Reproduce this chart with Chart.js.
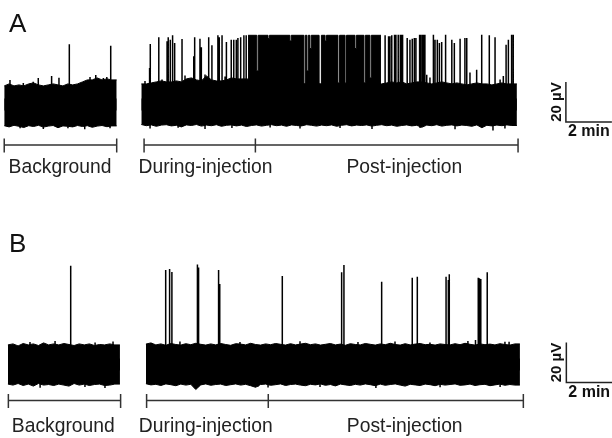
<!DOCTYPE html>
<html>
<head>
<meta charset="utf-8">
<script src="https://cdn.jsdelivr.net/npm/chart.js@4.4.1/dist/chart.umd.min.js"></script>
<style>
  html, body { margin: 0; padding: 0; background: #fff; }
  .panel { position: absolute; left: 0; width: 612px; height: 219px; }
</style>
</head>
<body>
<canvas id="panelA" class="panel" width="612" height="219" style="top:0"></canvas>
<canvas id="panelB" class="panel" width="612" height="219" style="top:219px"></canvas>
<script>
// time in minutes, voltage in µV (scale bar: 2 min / 20 µV)
const epochLabels = ['Background', 'During-injection', 'Post-injection'];

// ---- Panel A ----
const A_bgSpan = [0.01, 4.90];
const A_bgTop = [9.3, 10.3, 9.3, 9.8, 9.3, 10.3, 10.8, 9.8, 9.3, 9.8, 10.3, 9.8, 9.3, 10.3, 9.8, 10.3, 11.3, 12.3, 12.3, 13.3, 12.3, 12.8, 12.3];
const A_bgBottom = [-10.6, -11.2, -10.4, -10.9, -11.5, -10.6, -11.0, -10.4, -11.3, -10.8, -10.5, -11.6, -10.7, -10.9, -11.2, -10.5, -11.0, -10.6, -11.4, -10.8, -10.5, -11.1, -10.7];
const A_injSpan = [5.97, 22.30];
const A_injTop = [10.3, 10.3, 10.8, 11.3, 11.8, 11.3, 11.3, 11.8, 11.3, 12.8, 13.3, 12.3, 11.8, 14.3, 12.3, 11.8, 11.8, 12.3, 13.3, 12.8, 12.8, 12.8,
  12.5, 12.0, 11.5, 11.0, 10.8, 10.5, 10.8, 10.5, 10.3, 10.8, 10.5, 10.3, 10.8, 10.5, 10.3, 10.5, 10.8, 10.3, 10.5, 10.8, 10.5, 10.3, 10.8, 10.5, 10.3, 10.5,
  10.3, 10.8, 11.3, 10.8, 11.3, 10.3, 10.8, 11.3, 11.3, 10.8, 10.3, 10.8, 11.3, 10.8, 10.3, 10.8, 10.3, 9.8, 10.3, 10.8, 10.3, 10.3, 9.8, 10.3, 10.8, 10.3, 10.3];
const A_injBottom = [-10.0, -10.6, -10.2, -10.9, -10.3, -10.1, -10.7, -10.4, -11.2, -10.2, -10.5, -10.0, -10.8, -10.3, -10.6, -10.1, -10.9, -10.4, -10.2, -10.7,
  -10.3, -11.0, -10.5, -10.2, -10.8, -10.4, -10.1, -10.6, -10.3, -10.9, -10.2, -10.5, -10.7, -10.1, -10.4, -10.8, -10.3, -10.6, -10.2, -10.9,
  -10.4, -10.1, -10.7, -10.3, -10.5, -10.2, -10.8, -10.4, -10.1, -10.6, -10.3, -10.9, -10.5, -10.2, -10.7, -10.4, -11.4, -10.3, -10.6, -10.1,
  -10.8, -10.4, -10.2, -10.7, -10.3, -10.5, -10.9, -10.2, -11.6, -10.4, -10.7, -10.3, -10.6, -10.2, -10.5];
// saturated firing block, with the short pauses (notches)
const A_burstT = [10.61, 10.99, 11.05, 11.48, 11.54, 12.43, 12.49, 13.04, 13.10, 13.17, 13.23, 13.30, 13.36, 13.70, 13.80,
  13.96, 14.02, 14.52, 14.59, 14.83, 14.89, 15.26, 15.32, 15.65, 15.71, 15.91, 15.97, 16.39];
const A_burstV = [34.6, 16.8, 34.6, 33.0, 34.6, 31.8, 34.6, 9.3, 34.6, 16.8, 34.6, 28.0, 34.6, 9.8, 34.6,
  31.8, 34.6, 10.8, 34.6, 9.8, 34.6, 28.0, 34.6, 10.8, 34.6, 13.3, 34.6, 34.6];
// spikes (positive) and small deflections (both signs)
const A_spikeT = [2.07, 2.39, 2.84, 3.99, 4.64,
  0.26, 0.84, 1.27, 1.49, 3.74, 4.32, 4.47, 0.70, 1.71, 2.78, 3.51, 4.61,
  6.33, 6.36, 6.73, 7.09, 7.14, 7.23, 7.33, 7.42, 7.74, 8.25, 8.29, 8.52, 8.58, 8.90, 9.04, 9.30, 9.36, 9.48, 9.67,
  9.88, 9.99, 10.10, 10.17, 10.29, 10.43, 10.53,
  16.57, 16.72, 16.78, 16.86, 16.98, 17.04, 17.14, 17.23, 17.28, 17.33, 17.53, 17.65, 17.75, 17.84, 17.91,
  18.07, 18.13, 18.20, 18.26, 18.30, 18.38, 18.67, 18.74, 18.84, 18.93, 19.03, 19.20, 19.47, 19.58, 19.83,
  20.04, 20.12, 20.55, 20.77, 21.10, 21.35, 21.71, 21.83, 21.93, 22.07, 22.14,
  6.13, 6.87, 7.87, 8.74, 9.61, 17.00, 18.52, 20.26, 21.57,
  6.35, 7.57, 8.74, 9.91, 11.57, 12.87, 14.61, 16.00, 18.09, 19.61, 21.26, 21.78];
const A_spikeV = [14.3, 13.4, 30.1, 14.8, 29.4,
  12.3, 10.8, 11.4, 13.3, 13.8, 13.3, 13.8, -11.9, -12.3, -11.9, -12.4, -11.9,
  18.3, 30.3, 33.6, 31.6, 33.6, 32.4, 34.6, 30.8, 32.8, 24.1, 33.6, 32.9, 28.6, 33.6, 29.6, 34.6, 33.6, 34.6, 31.3,
  32.4, 32.4, 32.4, 33.3, 33.6, 34.6, 34.6,
  34.6, 34.1, 34.1, 34.6, 34.9, 34.9, 34.9, 34.9, 34.9, 34.9, 33.3, 32.4, 32.9, 33.3, 33.3,
  34.9, 34.9, 34.9, 34.9, 34.9, 14.9, 34.9, 32.4, 32.4, 30.8, 31.3, 34.9, 32.4, 30.8, 32.9,
  33.3, 33.3, 17.4, 34.9, 34.6, 33.6, 14.3, 29.9, 32.4, 34.9, 34.9,
  11.8, 12.5, 14.5, 15.0, 14.0, 12.8, 13.5, 16.0, 12.5,
  -12.0, -11.6, -12.3, -11.8, -11.5, -12.0, -11.7, -12.2, -11.8, -12.4, -13.0, -12.0];
const A_epochEdges = [0.01, 4.90, 6.09, 10.93, 22.35];

// ---- Panel B ----
const B_bgSpan = [0.17, 5.04];
const B_bgTop = [9.8, 10.3, 9.3, 10.5, 9.8, 10.3, 9.5, 10.8, 9.8, 10.3, 9.8, 10.5, 10.0, 9.5, 10.3, 9.8, 10.3, 9.5, 10.0, 9.8, 10.3, 9.8];
const B_bgBottom = [-9.8, -10.3, -9.5, -10.5, -9.8, -10.8, -9.5, -10.3, -10.0, -10.5, -9.8, -10.3, -10.8, -9.5, -10.3, -9.8, -10.5, -10.0, -9.8, -10.5, -10.3, -9.8];
const B_injSpan = [6.17, 22.43];
const B_injTop = [10.2, 10.8, 9.8, 10.3, 9.6, 10.5, 10.0, 9.7, 10.4, 9.9, 10.6, 10.1, 9.7, 10.3, 9.8, 10.5, 10.0, 9.6, 10.4, 10.2,
  9.8, 10.6, 10.0, 9.7, 10.3, 9.9, 10.5, 10.1, 9.7, 10.4, 9.8, 10.2, 10.6, 9.9, 10.3, 9.7, 10.1, 10.5, 9.8, 10.2,
  9.6, 10.4, 10.0, 9.8, 10.5, 10.1, 9.7, 10.3, 9.9, 10.6, 10.0, 9.7, 10.4, 9.8, 10.2, 10.5, 9.9, 10.1, 9.7, 10.3,
  10.0, 9.8, 10.4, 9.9, 10.6, 10.1, 9.7, 10.3, 9.9, 10.2, 9.8, 10.4, 10.0, 9.7, 10.3];
const B_injBottom = [-9.6, -10.2, -9.9, -10.5, -9.7, -10.1, -10.6, -9.8, -10.3, -9.9, -12.5, -10.2, -9.7, -10.4, -10.0, -9.8, -10.5, -10.1, -9.7, -10.3,
  -9.9, -10.6, -11.4, -10.0, -9.8, -10.4, -10.1, -9.7, -10.5, -10.0, -9.8, -10.3, -10.6, -9.9, -10.2, -9.7, -10.4, -10.0, -10.7, -9.8,
  -10.2, -10.5, -9.9, -10.3, -9.7, -10.1, -10.6, -9.8, -10.4, -10.0, -9.7, -10.3, -10.8, -9.9, -10.2, -10.5, -9.8, -10.1, -10.6, -9.9,
  -10.3, -10.0, -9.7, -10.4, -10.2, -9.8, -10.5, -10.1, -9.9, -10.6, -10.2, -9.8, -10.4, -10.0, -10.3];
const B_spikeT = [2.90, 6.40, 7.03, 7.20, 7.30, 8.41, 8.46, 9.33, 9.38, 12.10, 14.68, 14.78, 16.42, 17.75, 17.97,
  19.22, 19.32, 19.36, 20.50, 20.62, 20.67, 20.73, 21.01, 21.96,
  1.13, 2.22, 3.96, 4.74, 7.65, 10.26, 12.87, 15.39, 17.00, 18.52, 20.17, 21.78,
  1.57, 3.52, 4.39, 11.04, 11.48, 13.74, 16.17, 18.96, 21.57];
const B_spikeV = [49.4, 10.8, 47.3, 47.8, 46.3, 50.0, 48.5, 47.3, 40.3, 44.3, 46.1, 49.8, 41.4, 43.4, 43.9,
  43.9, 42.3, 45.1, 12.3, 43.4, 43.1, 42.7, 46.1, 11.4,
  11.3, 11.8, 11.0, 11.5, 11.5, 11.2, 11.6, 11.3, 11.5, 11.0, 11.8, 11.4,
  -11.6, -11.3, -11.8, -11.1, -11.5, -11.2, -11.8, -11.4, -11.2];
const B_epochEdges = [0.19, 5.07, 6.20, 11.49, 22.58];

// scale bar size
const barMinutes = 2;
const barMicroV = 20;

function envelope(span, values) {
  const dt = (span[1] - span[0]) / values.length;
  const pts = values.map((v, i) => ({ x: span[0] + i * dt, y: v }));
  pts.push({ x: span[1], y: values[values.length - 1] });
  return pts;
}

function spikes(ts, vs) {
  const pts = [];
  ts.forEach((t, i) => {
    pts.push({ x: t, y: 0 }, { x: t, y: vs[i] }, { x: t, y: null });
  });
  return pts;
}

// filled trace envelope; fills a little past zero so the halves overlap
function band(data, stepped) {
  const up = data[0].y > 0;
  return {
    data: data,
    stepped: stepped,
    fill: { value: up ? -3 : 3 },
    borderColor: '#000',
    backgroundColor: '#000',
    borderWidth: 1,
    pointRadius: 0
  };
}

function decor(cfg) {
  return {
    id: 'decor',
    afterDraw(chart) {
      const ctx = chart.ctx;
      const xs = chart.scales.x;
      const ys = chart.scales.y;
      ctx.save();

      // panel letter
      ctx.fillStyle = '#111';
      ctx.font = '26px "Liberation Sans", Arial, sans-serif';
      ctx.textAlign = 'left';
      ctx.textBaseline = 'alphabetic';
      ctx.fillText(cfg.letter, 9, cfg.letterY);

      // epoch brackets
      const e = cfg.edges.map(t => xs.getPixelForValue(t));
      const by = cfg.bracketY;
      ctx.strokeStyle = '#333';
      ctx.lineWidth = 1.5;
      ctx.beginPath();
      ctx.moveTo(e[0], by); ctx.lineTo(e[1], by);
      ctx.moveTo(e[2], by); ctx.lineTo(e[4], by);
      e.forEach(px => { ctx.moveTo(px, by - 6.5); ctx.lineTo(px, by + 7.5); });
      ctx.stroke();

      // epoch labels
      ctx.fillStyle = '#222';
      ctx.font = '19.3px "Liberation Sans", Arial, sans-serif';
      ctx.textAlign = 'center';
      epochLabels.forEach((s, i) => ctx.fillText(s, cfg.labelX[i], cfg.labelY));

      // scale bar
      const x0 = xs.getPixelForValue(cfg.barT);
      const x1 = xs.getPixelForValue(cfg.barT + barMinutes);
      const y0 = ys.getPixelForValue(cfg.barV);
      const y1 = ys.getPixelForValue(cfg.barV + barMicroV);
      ctx.strokeStyle = '#222';
      ctx.lineWidth = 1.5;
      ctx.beginPath();
      ctx.moveTo(x0, y1); ctx.lineTo(x0, y0); ctx.lineTo(x1, y0);
      ctx.stroke();
      ctx.fillStyle = '#111';
      ctx.font = 'bold 16px "Liberation Sans", Arial, sans-serif';
      ctx.textAlign = 'left';
      ctx.fillText(barMinutes + ' min', x0 + 2, y0 + 14);
      ctx.save();
      ctx.translate(x0 - 5, (y0 + y1) / 2);
      ctx.rotate(-Math.PI / 2);
      ctx.textAlign = 'center';
      ctx.font = 'bold 15px "Liberation Sans", Arial, sans-serif';
      ctx.fillText(barMicroV + ' \u00b5V', 0, 0);
      ctx.restore();

      ctx.restore();
    }
  };
}

function makePanel(id, p) {
  const sets = [
    band(envelope(p.bgSpan, p.bgTop), false),
    band(envelope(p.bgSpan, p.bgBottom), false),
    band(envelope(p.injSpan, p.injTop), false),
    band(envelope(p.injSpan, p.injBottom), false)
  ];
  if (p.burstT) {
    sets.push(band(p.burstT.map((t, i) => ({ x: t, y: p.burstV[i] })), true));
  }
  sets.push({
    data: spikes(p.spikeT, p.spikeV),
    borderColor: '#000',
    borderWidth: 1.5,
    pointRadius: 0,
    fill: false,
    spanGaps: false
  });

  new Chart(document.getElementById(id), {
    type: 'line',
    data: { datasets: sets },
    options: {
      responsive: false,
      devicePixelRatio: 1,
      animation: false,
      layout: { padding: 0 },
      plugins: { legend: { display: false }, tooltip: { enabled: false } },
      scales: {
        x: { type: 'linear', display: false, min: -4 / 23, max: -4 / 23 + 612 / 23 },
        y: { type: 'linear', display: false, min: p.yMin, max: p.yMax }
      }
    },
    plugins: [decor(p)]
  });
}

makePanel('panelA', {
  bgSpan: A_bgSpan, bgTop: A_bgTop, bgBottom: A_bgBottom,
  injSpan: A_injSpan, injTop: A_injTop, injBottom: A_injBottom,
  burstT: A_burstT, burstV: A_burstV,
  spikeT: A_spikeT, spikeV: A_spikeV,
  edges: A_epochEdges,
  yMin: -57.25, yMax: 52.25,
  letter: 'A', letterY: 32,
  bracketY: 145, labelX: [60, 205.5, 404.3], labelY: 173,
  barT: 24.43, barV: -8.75
});

makePanel('panelB', {
  bgSpan: B_bgSpan, bgTop: B_bgTop, bgBottom: B_bgBottom,
  injSpan: B_injSpan, injTop: B_injTop, injBottom: B_injBottom,
  spikeT: B_spikeT, spikeV: B_spikeV,
  edges: B_epochEdges,
  yMin: -36.75, yMax: 72.75,
  letter: 'B', letterY: 33,
  bracketY: 181.5, labelX: [63.3, 205.8, 404.7], labelY: 213,
  barT: 24.45, barV: -9
});
</script>
</body>
</html>
